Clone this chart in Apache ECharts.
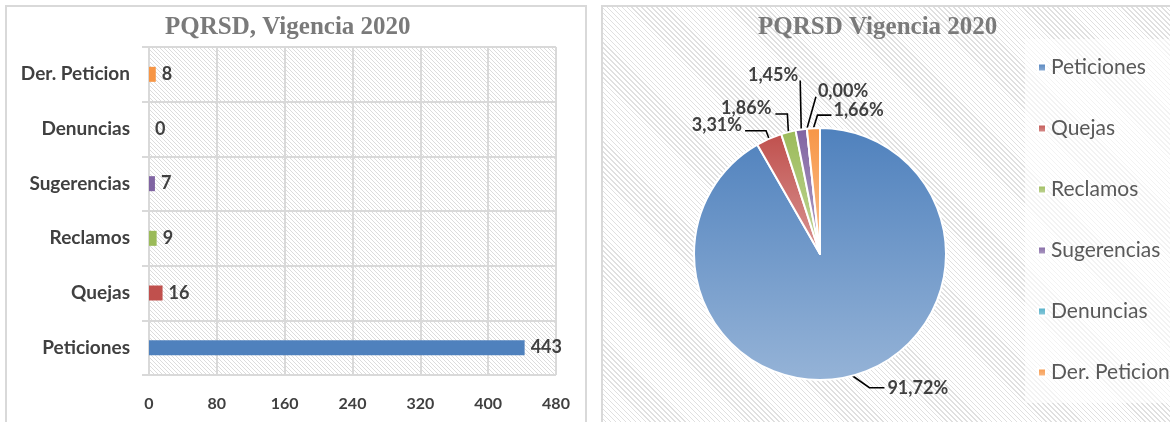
<!DOCTYPE html>
<html>
<head>
<meta charset="utf-8">
<script src="https://cdn.jsdelivr.net/npm/echarts@6/dist/echarts.min.js"></script>
<style>
  html, body { margin: 0; padding: 0; background: #fff; width: 1170px; height: 422px; overflow: hidden; }
  .panel { position: absolute; box-sizing: border-box; border: 2px solid #d9d9d9; }
  #barChart { left: 5px; top: 5px; width: 582px; height: 430px; background: #fff; }
  #pieChart { left: 601px; top: 5px; width: 580px; height: 430px;
    background: repeating-linear-gradient(45deg, #ffffff 0px, #ffffff 2.5px, #e0e0e0 2.5px, #e0e0e0 3.5px); }
</style>
</head>
<body>
<div id="barChart" class="panel"></div>
<div id="pieChart" class="panel"></div>
<script>
// data
var categories = ['Peticiones', 'Quejas', 'Reclamos', 'Sugerencias', 'Denuncias', 'Der. Peticion'];
var counts = [443, 16, 9, 7, 0, 8];
var barColors = ['#4f81bd', '#c0504d', '#9bbb59', '#8064a2', '#4bacc6', '#f79646'];
var lightColors = ['#95b3d7', '#d99694', '#c3d69b', '#b3a2c7', '#93cddd', '#fac090'];
var xTicks = [0, 80, 160, 240, 320, 400, 480];

// pie label placement relative to the slice edge (Excel-like leader lines)
// [labelDx, labelDy, align, [line points as offsets]]
var pieLabelPlace = [
  [35, 12, 'left', [[17, 12], [32, 12]]],
  [-27, -14, 'right', [[-3, -8], [-24, -8]]],
  [-17, -24, 'right', [[-1, -18], [-13, -18]]],
  [-3, -54, 'right', [[-1, -49]]],
  [11, -37, 'left', [[9, -32]]],
  [20, -18, 'left', [[4, -13], [18, -13]]]
];

var fontFam = 'Lato, "Open Sans", sans-serif';

// hatch pattern for the bar plot area
function hatch() {
  var c = document.createElement('canvas');
  c.width = 4; c.height = 4;
  var g = c.getContext('2d');
  g.fillStyle = '#fff';
  g.fillRect(0, 0, 4, 4);
  g.strokeStyle = '#dcdcdc';
  g.lineWidth = 1;
  g.beginPath();
  g.moveTo(-1, -1); g.lineTo(5, 5);
  g.moveTo(-1, 3); g.lineTo(1, 5);
  g.moveTo(3, -1); g.lineTo(5, 1);
  g.stroke();
  return c;
}

var barChart = echarts.init(document.getElementById('barChart'));
barChart.setOption({
  animation: false,
  title: {
    text: 'PQRSD, Vigencia 2020',
    left: 153, top: 3,
    textStyle: { fontFamily: '"Liberation Serif", serif', fontWeight: 'bold', fontSize: 25, color: '#7a7a7a' }
  },
  grid: {
    left: 142, top: 40, width: 407, height: 328,
    show: true, borderWidth: 0,
    backgroundColor: { image: hatch(), repeat: 'repeat' }
  },
  xAxis: {
    type: 'value', min: 0, max: 480, interval: 80,
    axisLine: { show: false },
    axisTick: { show: false },
    splitLine: { show: true, lineStyle: { color: '#d9d9d9', width: 2 } },
    axisLabel: {
      margin: 21, color: '#404040', fontFamily: fontFam, fontWeight: 'bold', fontSize: 16,
      formatter: function (v) { return xTicks.indexOf(v) >= 0 ? String(v) : ''; }
    }
  },
  yAxis: {
    type: 'category', data: categories,
    axisLine: { show: true, lineStyle: { color: '#d9d9d9', width: 2 } },
    axisTick: { show: true, length: 7, lineStyle: { color: '#d9d9d9', width: 2 } },
    splitLine: { show: true, lineStyle: { color: '#d9d9d9', width: 2 } },
    axisLabel: { margin: 19, color: '#404040', fontFamily: fontFam, fontWeight: 'bold', fontSize: 19 }
  },
  series: [{
    type: 'bar',
    barWidth: 15,
    data: counts.map(function (v, i) { return { value: v, itemStyle: { color: barColors[i] } }; }),
    label: {
      show: true, position: 'right', distance: 6,
      color: '#404040', fontFamily: fontFam, fontWeight: 'bold', fontSize: 18
    }
  }]
});

var pieChart = echarts.init(document.getElementById('pieChart'));
pieChart.setOption({
  animation: false,
  title: {
    text: 'PQRSD Vigencia 2020',
    left: 150, top: 3,
    textStyle: { fontFamily: '"Liberation Serif", serif', fontWeight: 'bold', fontSize: 25, color: '#7a7a7a' }
  },
  legend: {
    orient: 'vertical',
    left: 422, top: 32,
    padding: [18, 40, 20, 12],
    backgroundColor: 'rgba(255,255,255,0.6)',
    itemWidth: 8, itemHeight: 8, itemGap: 40,
    icon: 'rect',
    data: categories,
    textStyle: { color: '#595959', fontFamily: fontFam, fontSize: 21 }
  },
  series: [{
    type: 'pie',
    center: [217, 247],
    radius: 126,
    startAngle: 90,
    clockwise: true,
    avoidLabelOverlap: false,
    itemStyle: { borderColor: '#ffffff', borderWidth: 2 },
    data: counts.map(function (v, i) {
      return {
        name: categories[i], value: v,
        itemStyle: {
          color: new echarts.graphic.LinearGradient(0, 0, 0, 1, [
            { offset: 0, color: barColors[i] },
            { offset: 1, color: lightColors[i] }
          ])
        }
      };
    }),
    label: {
      show: true, position: 'outside',
      color: '#404040', fontFamily: fontFam, fontWeight: 'bold', fontSize: 18,
      formatter: function (p) { return p.percent.toFixed(2).replace('.', ',') + '%'; }
    },
    labelLine: { show: true, length: 12, length2: 18, lineStyle: { color: '#000', width: 1.6 } },
    labelLayout: function (p) {
      var pl = pieLabelPlace[p.dataIndex];
      var a = p.labelLinePoints[0];
      var pts = [[a[0], a[1]]];
      pl[3].forEach(function (o) { pts.push([a[0] + o[0], a[1] + o[1]]); });
      if (pts.length === 2) pts.push(pts[1].slice());
      return {
        x: a[0] + pl[0], y: a[1] + pl[1],
        align: pl[2], verticalAlign: 'middle',
        labelLinePoints: pts
      };
    }
  }]
});
</script>
</body>
</html>
